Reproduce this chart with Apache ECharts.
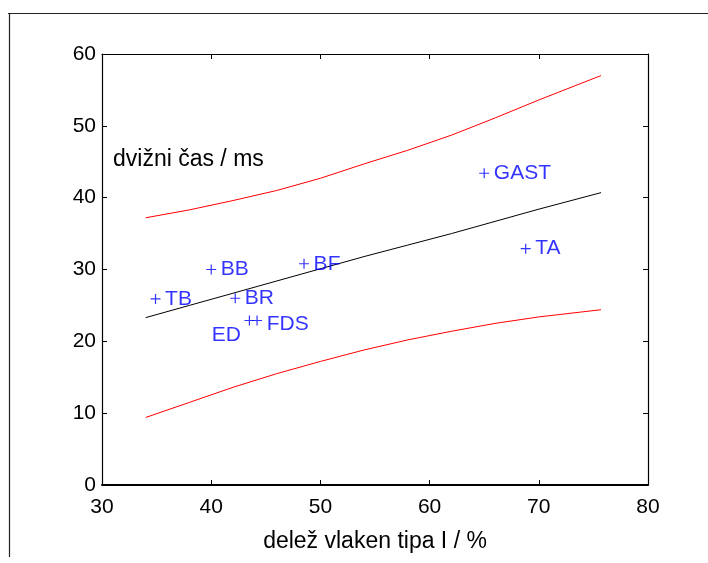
<!DOCTYPE html>
<html>
<head>
<meta charset="utf-8">
<script src="https://cdn.jsdelivr.net/npm/echarts@6/dist/echarts.min.js"></script>
<style>
  html, body { margin: 0; padding: 0; background: #fff; }
  #chart { width: 708px; height: 563px; }
</style>
</head>
<body>
<div id="chart"></div>
<script>
// Muscle groups: share of type I fibres (%) vs. contraction time (ms)
const muscleNames = ['TB', 'BB', 'BR', 'ED', 'FDS', 'BF', 'GAST', 'TA'];
const fibreShare  = [34.9, 40.0, 42.2, 43.5, 44.2, 48.5, 65.0, 68.8];
const contraction = [25.9, 30.0, 26.0, 22.9, 22.9, 30.8, 43.4, 32.9];

// Regression line and its upper / lower prediction bands
const bandX  = [34.0, 38.0, 42.0, 46.0, 50.0, 54.0, 58.0, 62.0, 66.0, 70.0, 75.7];
const fitY   = [23.3, 25.0, 26.7, 28.4, 30.1, 31.8, 33.4, 35.0, 36.7, 38.4, 40.7];
const upperY = [37.2, 38.3, 39.6, 41.0, 42.7, 44.7, 46.6, 48.7, 51.1, 53.6, 57.0];
const lowerY = [9.4, 11.5, 13.6, 15.5, 17.2, 18.8, 20.2, 21.4, 22.5, 23.4, 24.4];

const xTicks = [30, 40, 50, 60, 70, 80];
const yTicks = [0, 10, 20, 30, 40, 50, 60];

const FONT = "'Liberation Sans', Arial, Helvetica, sans-serif";
const pairs = (xs, ys) => xs.map((x, i) => [x, ys[i]]);

const points = muscleNames.map((name, i) => {
  const item = { name: name, value: [fibreShare[i], contraction[i]] };
  if (name === 'ED') {
    item.label = { position: 'left', distance: 3, offset: [0, 15] };
  }
  if (name === 'FDS') {
    item.label = { offset: [0, 4] };
  }
  return item;
});

const baseX = {
  type: 'value', min: xTicks[0], max: xTicks[xTicks.length - 1], interval: 10,
  splitLine: { show: false },
  axisLine: { show: true, onZero: false, lineStyle: { color: '#000', width: 1.2 } },
  axisTick: { show: true, inside: true, length: 5, lineStyle: { color: '#000' } }
};
const baseY = {
  type: 'value', min: yTicks[0], max: yTicks[yTicks.length - 1], interval: 10,
  splitLine: { show: false },
  axisLine: { show: true, onZero: false, lineStyle: { color: '#000', width: 1.2 } },
  axisTick: { show: true, inside: true, length: 5, lineStyle: { color: '#000' } }
};

const chart = echarts.init(document.getElementById('chart'), null, { renderer: 'canvas' });
chart.setOption({
  backgroundColor: '#fff',
  animation: false,
  textStyle: { fontFamily: FONT },
  grid: { left: 102, right: 60, top: 54, bottom: 78, containLabel: false },
  xAxis: [
    Object.assign({}, baseX, {
      position: 'bottom',
      axisLine: { show: true, onZero: false, lineStyle: { color: '#000', width: 2 } },
      axisLabel: { show: true, color: '#000', fontSize: 21, fontFamily: FONT, margin: 12 },
      name: 'delež vlaken tipa I / %',
      nameLocation: 'middle', nameGap: 45,
      nameTextStyle: { color: '#000', fontSize: 23, fontFamily: FONT }
    }),
    Object.assign({}, baseX, { position: 'top', axisLabel: { show: false } })
  ],
  yAxis: [
    Object.assign({}, baseY, {
      position: 'left',
      axisLabel: { show: true, color: '#000', fontSize: 21, fontFamily: FONT, margin: 6 }
    }),
    Object.assign({}, baseY, { position: 'right', axisLabel: { show: false } })
  ],
  graphic: [
    { type: 'line', shape: { x1: 8, y1: 13.5, x2: 708, y2: 13.5 }, style: { stroke: '#222', lineWidth: 1.2 } },
    { type: 'line', shape: { x1: 9.5, y1: 13, x2: 9.5, y2: 557 }, style: { stroke: '#222', lineWidth: 1.2 } },
    {
      type: 'text', left: 113, top: 148,
      style: { text: 'dvižni čas / ms', fill: '#000', fontSize: 23, fontFamily: FONT }
    }
  ],
  series: [
    {
      type: 'line', data: pairs(bandX, upperY), showSymbol: false, symbol: 'none',
      lineStyle: { color: '#ff0000', width: 1 }, silent: true
    },
    {
      type: 'line', data: pairs(bandX, lowerY), showSymbol: false, symbol: 'none',
      lineStyle: { color: '#ff0000', width: 1 }, silent: true
    },
    {
      type: 'line', data: pairs(bandX, fitY), showSymbol: false, symbol: 'none',
      lineStyle: { color: '#000', width: 1 }, silent: true
    },
    {
      type: 'scatter', data: points,
      symbol: 'path://M0,5L10,5M5,0L5,10', symbolSize: 10,
      itemStyle: { color: 'rgba(0,0,0,0)', borderColor: '#0000ff', borderWidth: 1.2 },
      label: {
        show: true, position: 'right', distance: 4,
        formatter: '{b}', color: '#0000ff', fontSize: 21, fontFamily: FONT
      },
      z: 5
    }
  ]
});
</script>
</body>
</html>
